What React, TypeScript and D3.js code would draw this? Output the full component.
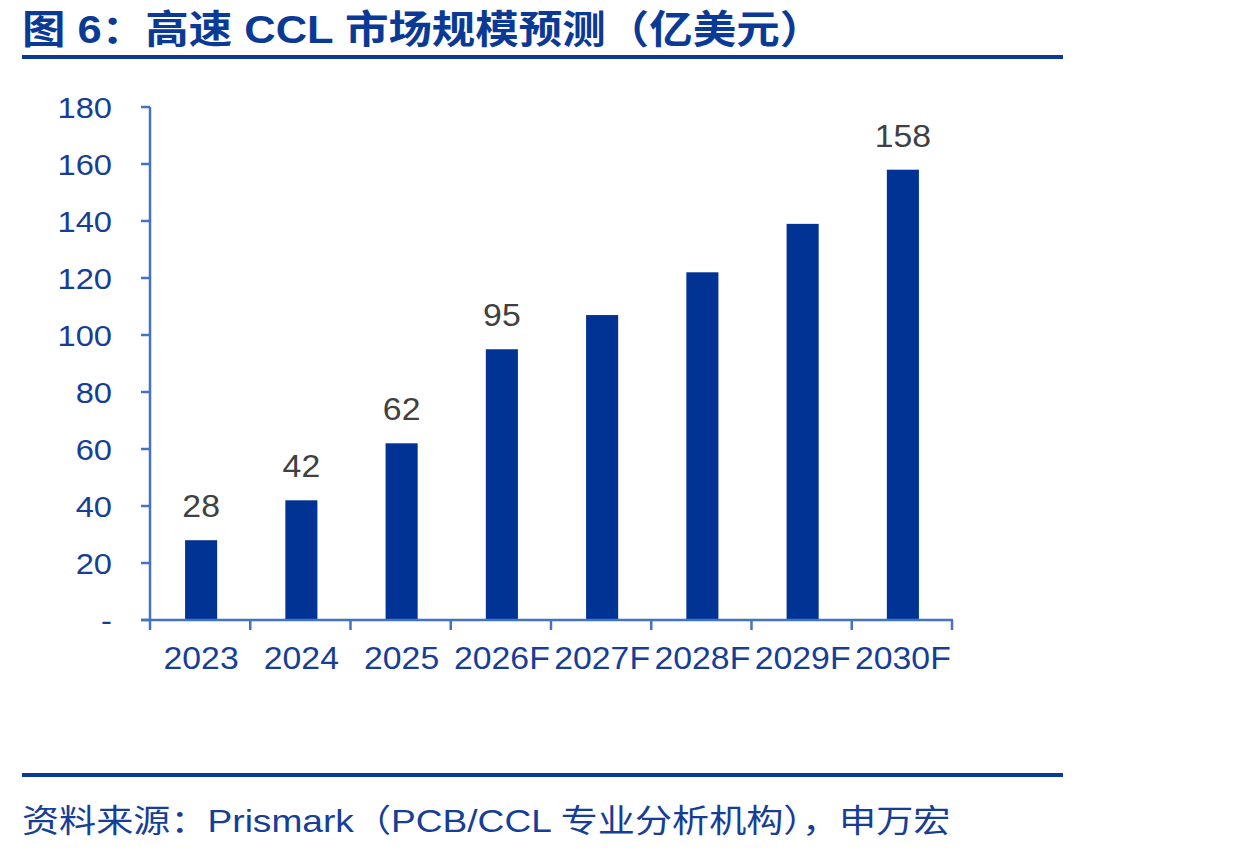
import React from "react";
import * as d3 from "d3";

const categories = ["2023", "2024", "2025", "2026F", "2027F", "2028F", "2029F", "2030F"];
const values = [28, 42, 62, 95, 107, 122, 139, 158];
const labeledIndices = [0, 1, 2, 3, 7];
const yTicks = [0, 20, 40, 60, 80, 100, 120, 140, 160, 180];
const titleText = "图 6：高速 CCL 市场规模预测（亿美元）";
const sourceText = "资料来源：Prismark（PCB/CCL 专业分析机构），申万宏";

const W = 1234;
const H = 852;
const plot = { left: 150, right: 952, top: 107, bottom: 620 };
const barColor = "#003393";
const axisColor = "#4472C4";
const tickText = "#173E97";
const numFont = "'Liberation Sans', Arial, sans-serif";
const cjkFont = "'Liberation Sans', 'Noto Sans CJK SC', sans-serif";
const sx = 1.09;

function T(props: { x: number; y: number; anchor?: string; size: number; fill: string; family: string; weight?: string; scale: number; children: React.ReactNode }) {
  return (
    <text
      transform={`translate(${props.x},${props.y}) scale(${props.scale},1)`}
      textAnchor={props.anchor || "start"}
      fontFamily={props.family}
      fontWeight={props.weight || "normal"}
      fontSize={props.size}
      fill={props.fill}
    >
      {props.children}
    </text>
  );
}

export default function App() {
  const x = d3.scaleBand<string>().domain(categories).range([plot.left, plot.right]).paddingInner(0).paddingOuter(0);
  const y = d3.scaleLinear().domain([0, 180]).range([plot.bottom, plot.top]);
  const bw = x.bandwidth() * 0.32;

  return (
    <svg width={W} height={H} style={{ position: "absolute", left: 0, top: 0, background: "#fff" }}>
      <rect x={0} y={0} width={W} height={H} fill="#fff" />
      <T x={22} y={43} family={cjkFont} weight="bold" size={39} fill="#0A3A95" scale={1.115}>
        {titleText}
      </T>
      <rect x={22} y={55} width={1041} height={4} fill="#0A3A95" />

      {/* y axis */}
      <line x1={plot.left} x2={plot.left} y1={plot.top} y2={plot.bottom} stroke={axisColor} strokeWidth={2.5} />
      {yTicks.map((t) => (
        <g key={t}>
          <line x1={plot.left - 9} x2={plot.left} y1={y(t)} y2={y(t)} stroke={axisColor} strokeWidth={2.5} />
          <T x={112} y={y(t) + 11} anchor="end" family={numFont} size={30} fill={tickText} scale={sx}>
            {t === 0 ? "-" : t}
          </T>
        </g>
      ))}

      {/* bars */}
      {categories.map((c, i) => (
        <rect
          key={c}
          x={(x(c) as number) + x.bandwidth() / 2 - bw / 2 + 1}
          y={y(values[i])}
          width={bw}
          height={y(0) - y(values[i])}
          fill={barColor}
        />
      ))}

      {/* x axis */}
      <line x1={plot.left - 9} x2={plot.right + 1} y1={plot.bottom} y2={plot.bottom} stroke={axisColor} strokeWidth={2.5} />
      {categories.concat(["__end"]).map((c, i) => {
        const xx = i < categories.length ? (x(c) as number) : plot.right;
        return <line key={c} x1={xx} x2={xx} y1={plot.bottom} y2={plot.bottom + 10} stroke={axisColor} strokeWidth={2.5} />;
      })}
      {categories.map((c) => (
        <T key={c} x={(x(c) as number) + x.bandwidth() / 2 + 1} y={669} anchor="middle" family={numFont} size={31} fill={tickText} scale={sx}>
          {c}
        </T>
      ))}

      {/* value labels */}
      {labeledIndices.map((i) => (
        <T
          key={i}
          x={(x(categories[i]) as number) + x.bandwidth() / 2 + 1}
          y={y(values[i]) - 23}
          anchor="middle"
          family={numFont}
          size={31}
          fill="#404040"
          scale={sx}
        >
          {values[i]}
        </T>
      ))}

      <rect x={22} y={773} width={1041} height={4} fill="#0A3A95" />
      <T x={22} y={832} family={cjkFont} size={32} fill="#173E97" scale={1.16}>
        {sourceText}
      </T>
    </svg>
  );
}
